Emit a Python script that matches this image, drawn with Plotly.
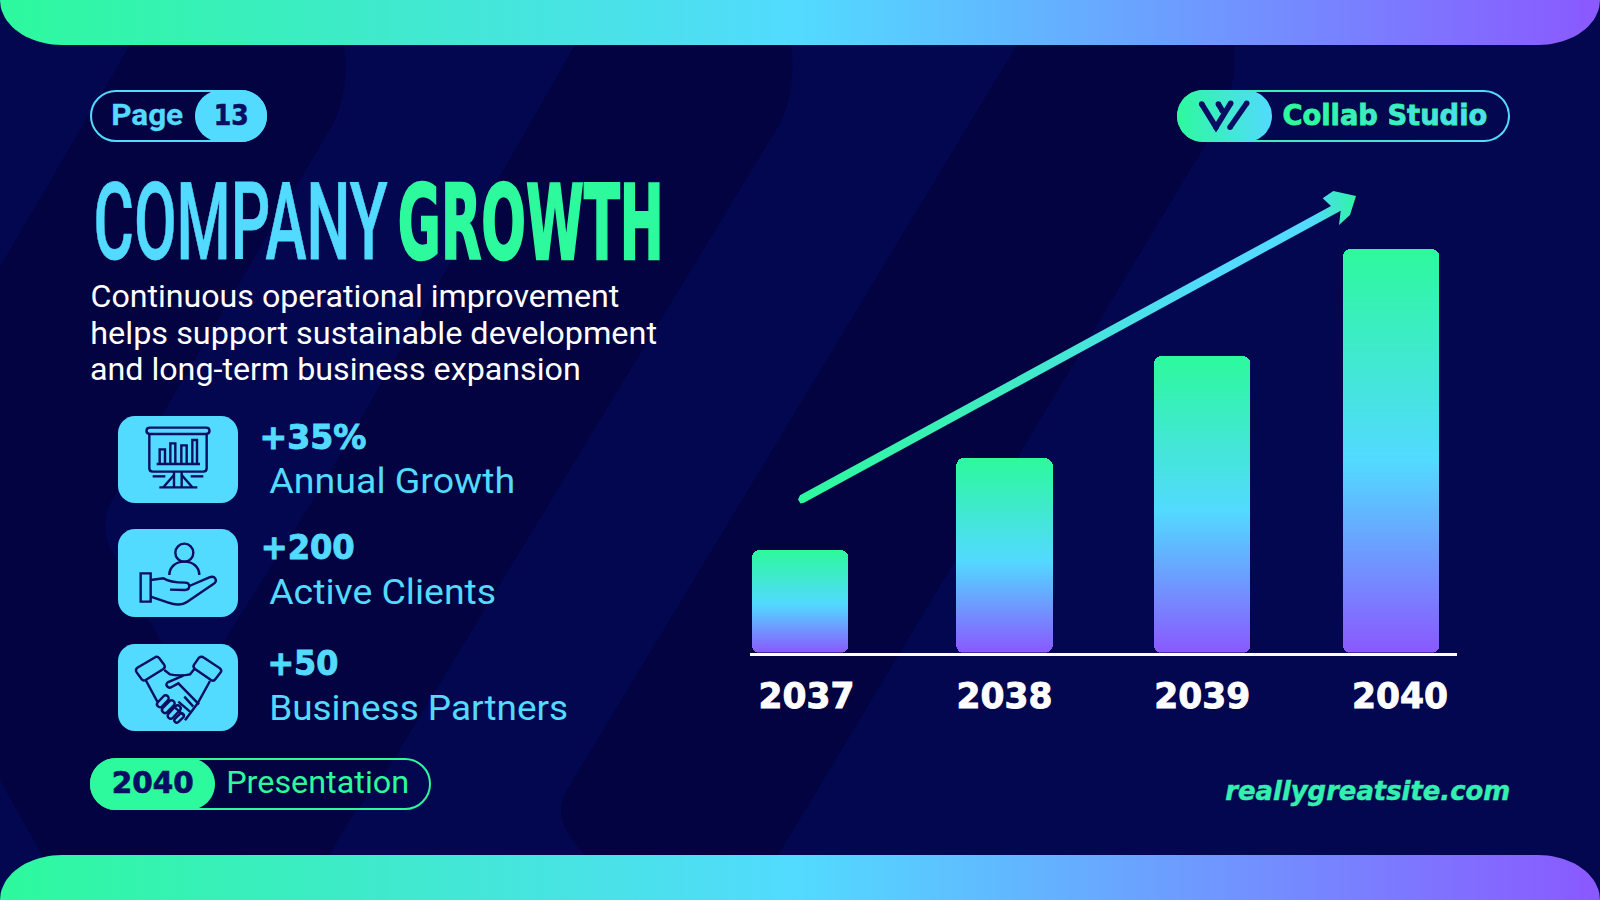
import json, math, re
import plotly.graph_objects as go

# ---------- data ----------
YEARS = [2037, 2038, 2039, 2040]
GROWTH_VALUES = [25.4, 48.2, 73.5, 100]
YEAR_NUDGE = [-0.032, 0, 0, -0.045]
STAT_VALUES = ["+35%", "+200", "+50"]
STAT_LABELS = ["Annual Growth", "Active Clients", "Business Partners"]
BODY_LINES = ["Continuous operational improvement",
              "helps support sustainable development",
              "and long-term business expansion"]

GREEN, CYAN, PURPLE = "#2DF99D", "#52DAFF", "#8A58FF"
BG, DARK, INK = "#03074F", "#020340", "#0A0E62"
W, H = 1600, 900
BAND_SCALE = [[0, GREEN], [0.5, CYAN], [1, PURPLE]]

# plot-area geometry of the bar chart
PX_L, PX_R, PX_TOP, PX_BOT = 749.6, 1457.0, 248.6, 652.5
X_LO, X_HI = 2036.712, 2040.288
PX_PER_YEAR = (PX_R - PX_L) / (X_HI - X_LO)
PX_PER_UNIT = (PX_BOT - PX_TOP) / 100.0
BAR_PX = 96.5
BAR_R = 8.0


def hex2rgb(h):
    return tuple(int(h[i:i + 2], 16) for i in (1, 3, 5))


def mix(a, b, t):
    ra, rb = hex2rgb(a), hex2rgb(b)
    return "rgb(%d,%d,%d)" % tuple(round(ra[i] + (rb[i] - ra[i]) * t) for i in range(3))


def bar_color(t):
    # t = 0 at foot of bar, 1 at its top
    return mix(PURPLE, CYAN, t / 0.48) if t < 0.48 else mix(CYAN, GREEN, (t - 0.48) / 0.52)


fig = go.Figure()


def corner_inset(d):
    return BAR_R - math.sqrt(max(BAR_R ** 2 - (BAR_R - d) ** 2, 0)) if d < BAR_R else 0.0


# ---------- bars: every column is a stack of thin slices for the gradient ----------
for year, nudge, value in zip(YEARS, YEAR_NUDGE, GROWTH_VALUES):
    n = int(math.ceil(value / 0.25))
    dv = value / n
    xs, ys, cols, wid = [], [], [], []
    for i in range(n):
        d_low = (i + 0.5) * dv * PX_PER_UNIT
        d_top = (n - i - 0.5) * dv * PX_PER_UNIT
        inset = max(corner_inset(d_low), corner_inset(d_top))
        xs.append(year + nudge)
        ys.append(dv)
        cols.append(bar_color((i + 0.5) / n))
        wid.append((BAR_PX - 2 * inset) / PX_PER_YEAR)
    fig.add_trace(go.Bar(x=xs, y=ys, width=wid, marker=dict(color=cols, line=dict(width=0)),
                         xaxis="x", yaxis="y", showlegend=False, hoverinfo="skip"))


# ---------- canvas helpers ----------
def rr_pts(x0, y0, x1, y1, r, n=14):
    pts = []
    for cx, cy, a0 in ((x1 - r, y0 + r, -90), (x1 - r, y1 - r, 0), (x0 + r, y1 - r, 90), (x0 + r, y0 + r, 180)):
        for k in range(n + 1):
            a = math.radians(a0 + 90 * k / n)
            pts.append((cx + r * math.cos(a), cy + r * math.sin(a)))
    pts.append(pts[0])
    return pts


def grad_poly(pts, scale, kind="horizontal"):
    fig.add_trace(go.Scatter(x=[p[0] for p in pts], y=[p[1] for p in pts], mode="lines",
                             line=dict(width=0), fill="toself",
                             fillgradient=dict(type=kind, colorscale=scale),
                             xaxis="x2", yaxis="y2", showlegend=False, hoverinfo="skip"))


def rr_path(x0, y0, x1, y1, r):
    k = r * 0.5523
    return (f"M {x0+r} {y0} L {x1-r} {y0} C {x1-r+k} {y0} {x1} {y0+r-k} {x1} {y0+r} "
            f"L {x1} {y1-r} C {x1} {y1-r+k} {x1-r+k} {y1} {x1-r} {y1} "
            f"L {x0+r} {y1} C {x0+r-k} {y1} {x0} {y1-r+k} {x0} {y1-r} "
            f"L {x0} {y0+r} C {x0} {y0+r-k} {x0+r-k} {y0} {x0+r} {y0} Z")


shapes = []


def shape(path, fill=None, stroke=None, sw=0):
    shapes.append(dict(type="path", path=path, xref="x2", yref="y2", layer="above",
                       fillcolor=fill or "rgba(0,0,0,0)",
                       line=dict(color=stroke or "rgba(0,0,0,0)", width=sw)))


def bg_path(d):
    toks = re.findall(r"[A-Z]|-?\d+\.?\d*", d)
    out, idx = [], 0
    for t in toks:
        if t.isalpha():
            out.append(t)
        else:
            v = float(t)
            out.append(f"{v / W:.5f}" if idx % 2 == 0 else f"{1 - v / H:.5f}")
            idx += 1
    return " ".join(out)


# ---------- background darker stripes ----------
for d in ("M 0 267 L 133 40 L 343 40 C 348 70 345 95 335 120 L 112 500 C 104 515 102 530 110 548 "
          "L 190 695 L 326 480 L 578 40 L 790 40 C 795 70 792 95 782 120 L 395 757 C 370 795 345 820 328 860 "
          "L 45 860 L 0 780 Z",
          "M 1020 40 L 1233 40 C 1238 75 1230 105 1204 147 L 775 860 L 590 860 "
          "C 560 830 555 810 567 790 Z"):
    shapes.append(dict(type="path", path=bg_path(d), xref="paper", yref="paper", layer="below",
                       fillcolor=DARK, line=dict(width=0)))


# ---------- gradient bands top and bottom ----------
def band(top):
    rx, ry, n = 62, 45, 20
    pts = []
    if top:
        pts.append((0, 0))
        for k in range(n + 1):
            a = math.pi * k / (2 * n)
            pts.append((rx - rx * math.cos(a), ry * math.sin(a)))
        for k in range(n + 1):
            a = math.pi / 2 - math.pi * k / (2 * n)
            pts.append((W - rx + rx * math.cos(a), ry * math.sin(a)))
        pts += [(W, 0), (0, 0)]
    else:
        pts.append((0, H))
        for k in range(n + 1):
            a = math.pi * k / (2 * n)
            pts.append((rx - rx * math.cos(a), H - ry * math.sin(a)))
        for k in range(n + 1):
            a = math.pi / 2 - math.pi * k / (2 * n)
            pts.append((W - rx + rx * math.cos(a), H - ry * math.sin(a)))
        pts += [(W, H), (0, H)]
    return pts


grad_poly(band(True), BAND_SCALE)
grad_poly(band(False), BAND_SCALE)

# ---------- arrow ----------
grad_poly([(800, 495.2), (1331, 206), (1322.7, 198.3), (1333.3, 191), (1356, 196), (1350, 215),
           (1339, 225), (1340.7, 210.7), (804, 502.8), (800.5, 503.5), (798, 499.5), (800, 495.2)],
          [[0, GREEN], [0.35, "#3DEDC0"], [0.75, CYAN], [0.92, CYAN], [0.95, "#45E3DC"], [1, "#30F5A5"]])

# ---------- pills ----------
shape(rr_path(91, 91, 266, 141, 25), stroke=CYAN, sw=2)
shape(rr_path(195, 90, 267, 142, 26), fill=CYAN)
shape(rr_path(91, 759, 430, 809, 25), stroke=GREEN, sw=2)
shape(rr_path(90, 758, 215, 810, 26), fill=GREEN)
outer = rr_pts(1177, 90, 1510, 142, 26)
inner = rr_pts(1179, 92, 1508, 140, 24)[::-1]
grad_poly(outer + inner + [outer[0]], [[0, GREEN], [1, CYAN]])
grad_poly(rr_pts(1177, 90, 1272, 142, 26), [[0, GREEN], [1, CYAN]])
fig.add_trace(go.Scatter(x=[1201.7, 1216, 1230.7, None, 1230, 1246.7, None, 1218.3, 1222.3],
                         y=[104, 127.3, 103.3, None, 127.3, 103.3, None, 104, 110.7],
                         mode="lines+markers", line=dict(color=INK, width=5.5),
                         marker=dict(color=INK, size=5.5), xaxis="x2", yaxis="y2",
                         showlegend=False, hoverinfo="skip"))

# ---------- icon tiles ----------
for y0, y1 in ((416, 503), (529, 617), (644, 731)):
    shape(rr_path(118, y0, 238, y1, 17), fill=CYAN)


def crop(d, ox=100, oy=410):
    toks = re.findall(r"[A-Z]|-?\d+\.?\d*", d)
    out, idx = [], 0
    for t in toks:
        if t.isalpha():
            out.append(t)
        else:
            v = float(t)
            out.append(f"{ox + v / 3:.2f}" if idx % 2 == 0 else f"{oy + v / 3:.2f}")
            idx += 1
    return " ".join(out)


def circ(cx, cy, r):
    k = r * 0.5523
    return (f"M {cx+r} {cy} C {cx+r} {cy+k} {cx+k} {cy+r} {cx} {cy+r} C {cx-k} {cy+r} {cx-r} {cy+k} {cx-r} {cy} "
            f"C {cx-r} {cy-k} {cx-k} {cy-r} {cx} {cy-r} C {cx+k} {cy-r} {cx+r} {cy-k} {cx+r} {cy} Z")


def capsule(x0, y0, x1, y1, r):
    dx, dy = x1 - x0, y1 - y0
    L = math.hypot(dx, dy)
    nx, ny = -dy / L * r, dx / L * r
    ux, uy = dx / L * r * 1.3, dy / L * r * 1.3
    return (f"M {x0+nx} {y0+ny} L {x1+nx} {y1+ny} C {x1+nx+ux} {y1+ny+uy} {x1-nx+ux} {y1-ny+uy} {x1-nx} {y1-ny} "
            f"L {x0-nx} {y0-ny} C {x0-nx-ux} {y0-ny-uy} {x0+nx-ux} {y0+ny-uy} {x0+nx} {y0+ny} Z")


ICONS = [
    # presentation board
    "M 150 53 L 318 53 C 332 53 332 72 318 72 L 150 72 C 136 72 136 53 150 53 Z",
    "M 148 72 L 148 175 C 148 182 152 185 158 185 L 310 185 C 316 185 320 182 320 175 L 320 72",
    "M 170 162 L 300 162",
    "M 179 162 L 179 118 L 195 118 L 195 162", "M 211 162 L 211 100 L 226 100 L 226 162",
    "M 244 162 L 244 106 L 260 106 L 260 162", "M 277 162 L 277 90 L 291 90 L 291 162",
    "M 222 185 L 222 232", "M 245 185 L 245 232", "M 222 195 L 190 232", "M 245 195 L 277 232",
    "M 178 232 L 292 232", "M 158 199 L 196 199", "M 272 199 L 310 199",
    # hand with person
    circ(253, 428, 27),
    "M 208 495 C 208 470 228 455 253 455 C 278 455 298 470 298 495",
    "M 122 490 L 152 490 L 152 575 L 122 575 Z",
    "M 152 510 L 190 505 C 205 515 230 518 255 518 C 272 518 272 540 255 540 L 210 539",
    "M 268 528 L 328 502 C 345 495 355 512 340 522 L 262 575 C 245 587 225 585 205 578 L 152 560",
]
for d in ICONS:
    shape(crop(d), stroke=INK, sw=2.4)

# handshake, traced in a crop whose origin is (125, 645)
HANDSHAKE = [
    "M 88 38 C 95 33 100 36 103 40 L 118 60 C 121 65 120 68 115 72 L 62 105 C 57 108 53 107 50 103 "
    "L 35 82 C 31 76 32 72 37 68 Z",
    "M 222 38 C 228 33 233 35 237 38 L 285 70 C 290 75 290 78 287 82 L 271 103 C 268 107 263 108 258 105 "
    "L 210 72 C 205 68 204 63 208 58 Z",
    "M 62 105 L 97 170", "M 255 108 L 218 175 L 180 226",
    "M 118 75 L 135 88 C 150 92 180 92 195 88 L 210 70",
    "M 175 92 L 128 112 C 118 120 130 132 140 126 L 160 115 L 222 178",
    "M 178 155 L 205 185", "M 160 170 L 195 200", "M 150 188 L 178 212",
    capsule(105, 178, 122, 160, 9), capsule(120, 195, 140, 175, 9),
    capsule(137, 212, 158, 190, 9), capsule(155, 226, 170, 212, 7),
]
for d in HANDSHAKE:
    shape(crop(d, 125, 645), stroke=INK, sw=2.4)

# ---------- text ----------
annotations = []
FIT = {}


def label(text, cx, cy, size, color, family, weight=400, width=None, stroke=0, style="normal", spans=None):
    annotations.append(dict(text=spans or text, x=cx / W, y=1 - cy / H, xref="paper", yref="paper",
                            xanchor="center", yanchor="middle", showarrow=False,
                            font=dict(family=family, size=size, color=color, weight=weight, style=style)))
    if width:
        FIT["a:" + text] = [width, stroke]


HEAVY = "DejaVu Sans"
TEXTF = "Roboto"
label("Page", 147, 115, 29, CYAN, "Roboto", 700, 72, 0.3)
label("13", 231, 115, 29, INK, HEAVY, 700, 35, 0.6)
label("COMPANY", 240, 221.5, 108, CYAN, "Roboto", 500, 294, 0.8)
label("GROWTH", 531, 223.5, 103, GREEN, HEAVY, 700, 266, 2.5)
for txt, cy, wd in zip(BODY_LINES, (296, 333, 369.5), (529, 567, 491)):
    label(txt, 90 + wd / 2, cy, 30.5, "#FFFFFF", TEXTF, 400, wd)
for txt, cx, wd, cy in zip(STAT_VALUES, (312.5, 307, 302.5), (107, 94, 71), (437, 547, 663)):
    label(txt, cx, cy, 34, CYAN, HEAVY, 700, wd, 1.0)
for txt, wd, cy in zip(STAT_LABELS, (246, 227, 299), (481, 592, 708)):
    label(txt, 269 + wd / 2, cy, 35.5, CYAN, TEXTF, 400, wd)
label("2040", 152.5, 782, 30, INK, HEAVY, 700, 82, 0.7)
label("Presentation", 317, 782, 31, GREEN, TEXTF, 400, 183)
brand = "Collab Studio"
spans = ""
for i, ch in enumerate(brand):
    spans += f'<span style="color:{mix(GREEN, CYAN, i / (len(brand) - 1))}">{ch}</span>'
label(brand, 1385, 115, 29, GREEN, HEAVY, 700, 205, 0.8, spans=spans)
label("reallygreatsite.com", 1367.5, 790, 27, "#33F0B0", HEAVY, 700, 285, 0.5, style="italic")

# ---------- layout ----------
fig.update_layout(
    width=W, height=H, autosize=False, barmode="stack",
    margin=dict(l=0, r=0, t=0, b=0, pad=0, autoexpand=False),
    paper_bgcolor=BG, plot_bgcolor="rgba(0,0,0,0)", showlegend=False, hovermode=False,
    xaxis=dict(domain=[PX_L / W, PX_R / W], range=[X_LO, X_HI], tickmode="array", tickvals=YEARS,
               ticktext=[str(y) for y in YEARS], showgrid=False, zeroline=False, showline=True,
               linecolor="#FFFFFF", linewidth=3, ticks="outside", ticklen=10, tickcolor="rgba(0,0,0,0)",
               tickfont=dict(family=HEAVY, size=35, color="#FFFFFF", weight=700), fixedrange=True,
               automargin=False, anchor="y"),
    yaxis=dict(domain=[1 - PX_BOT / H, 1 - PX_TOP / H], range=[0, 100], visible=False, fixedrange=True,
               automargin=False, anchor="x"),
    xaxis2=dict(domain=[0, 1], range=[0, W], visible=False, fixedrange=True, anchor="y2"),
    yaxis2=dict(domain=[0, 1], range=[H, 0], visible=False, fixedrange=True, anchor="x2"),
    shapes=shapes, annotations=annotations,
)

FIT.update({"t:" + str(y): [96, 0.9] for y in YEARS})
POST = """
(function(){
  var FIT = %s;
  function apply(){
    var gd = document.getElementById('{plot_id}');
    if(!gd) return;
    gd.querySelectorAll('.annotation-text').forEach(squeeze);
    gd.querySelectorAll('.xtick text').forEach(stretchTick);
  }
  function paint(el, sw){
    if(sw > 0){ el.style.stroke = el.style.fill || el.getAttribute('fill'); el.style.strokeWidth = sw + 'px'; }
  }
  function squeeze(el){
    var spec = FIT['a:' + el.textContent];
    if(!spec || el.dataset.fitted) return;
    var natural = el.getComputedTextLength();
    var cx = parseFloat(el.getAttribute('x')) || 0;
    el.setAttribute('transform', 'translate(' + cx + ',0) scale(' + (spec[0] / natural) + ',1) translate(' + (-cx) + ',0)');
    paint(el, spec[1]);
    var r = el.previousElementSibling;
    if(r && r.tagName.toLowerCase() === 'rect'){
      var w = parseFloat(r.getAttribute('width')), x = parseFloat(r.getAttribute('x')) || 0;
      r.setAttribute('x', x + (w - spec[0]) / 2);
      r.setAttribute('width', spec[0]);
    }
    el.dataset.fitted = '1';
  }
  function stretchTick(el){
    var spec = FIT['t:' + el.textContent];
    if(!spec) return;
    el.setAttribute('textLength', spec[0]);
    el.setAttribute('lengthAdjust', 'spacingAndGlyphs');
    paint(el, spec[1]);
  }
  document.body.style.margin = '0';
  document.documentElement.style.overflow = 'hidden';
  apply(); setTimeout(apply, 50); setTimeout(apply, 300);
})();
""" % json.dumps(FIT)

fig.write_html("out.html", post_script=POST, config=dict(displayModeBar=False))
